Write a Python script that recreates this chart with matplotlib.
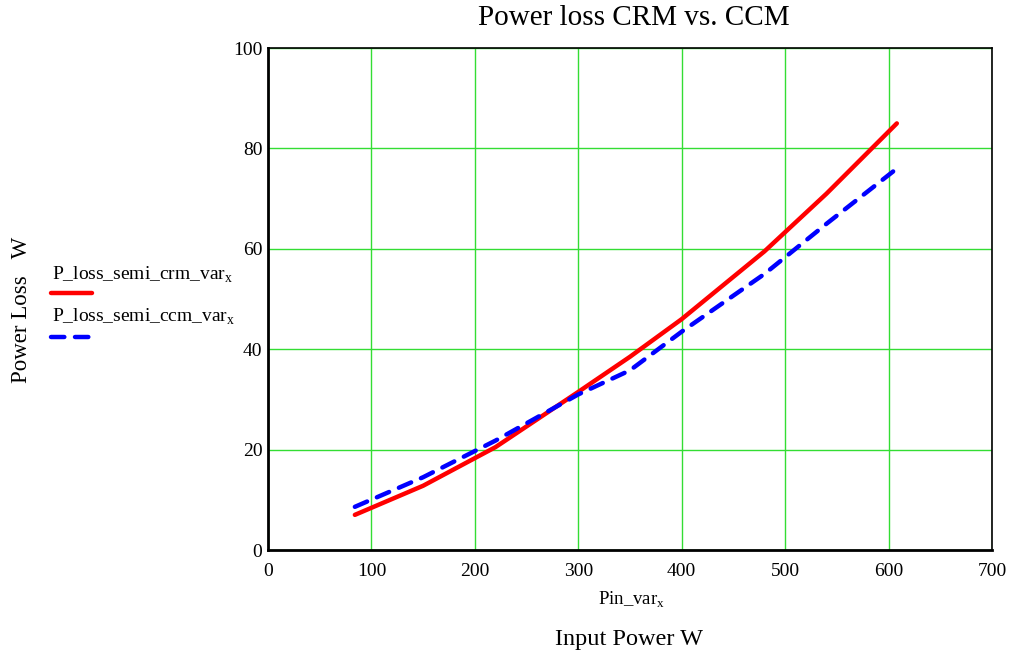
import matplotlib.pyplot as plt
from matplotlib.lines import Line2D

plt.rcParams['font.family'] = ['Liberation Serif', 'DejaVu Serif']
plt.rcParams['mathtext.fontset'] = 'custom'
plt.rcParams['mathtext.rm'] = 'Liberation Serif'

# data
pin_var = [84, 150, 220, 300, 350, 400, 480, 540, 608]
loss_crm = [7.0, 12.8, 20.5, 31.5, 38.5, 46.0, 59.5, 71.0, 85.0]
loss_ccm = [8.6, 14.5, 21.8, 31.0, 35.8, 43.5, 55.0, 65.0, 76.0]
x_ticks = [0, 100, 200, 300, 400, 500, 600, 700]
y_ticks = [0, 20, 40, 60, 80, 100]

fig = plt.figure(figsize=(10.17, 6.59), dpi=100)
ax = fig.add_axes([0.2635, 0.1654, 0.7119, 0.7616])

# grid
ax.grid(True, color="#33dd33", linewidth=1.0, zorder=1)
ax.set_axisbelow(True)

# curves
ax.plot(pin_var, loss_crm, color="#ff0000", linewidth=3.2, solid_capstyle="round", zorder=3)
ax.plot(pin_var, loss_ccm, color="#0000ff", linewidth=3.2, dashes=(3.0, 2.4),
        dash_capstyle="round", zorder=3)

ax.set_xlim(0, 700)
ax.set_ylim(0, 100)
ax.set_xticks(x_ticks)
ax.set_yticks(y_ticks)
ax.tick_params(axis="both", labelsize=14, length=0)
ax.tick_params(axis="x", pad=9)
ax.tick_params(axis="y", pad=4)

# frame
for side in ["left", "bottom"]:
    ax.spines[side].set_linewidth(2.0)
for side in ["top", "right"]:
    ax.spines[side].set_linewidth(1.2)

# texts
fig.text(0.623, 0.972, "Power loss CRM vs. CCM", ha="center", va="center", fontsize=21)
fig.text(0.621, 0.090, "Pin_var$_{\\mathrm{x}}$", ha="center", va="center", fontsize=13.5)
fig.text(0.618, 0.030, "Input Power W", ha="center", va="center", fontsize=17.5)
fig.text(0.021, 0.53, "Power Loss   W", ha="center", va="center", fontsize=16.5, rotation=90)

# legend at left
fig.text(0.051, 0.583, "P_loss_semi_crm_var$_{\\mathrm{x}}$", ha="left", va="center", fontsize=14)
fig.add_artist(Line2D([0.050, 0.090], [0.555, 0.555], color="#ff0000", linewidth=3.2,
                      solid_capstyle="round", transform=fig.transFigure))
fig.text(0.051, 0.519, "P_loss_semi_ccm_var$_{\\mathrm{x}}$", ha="left", va="center", fontsize=14)
fig.add_artist(Line2D([0.050, 0.090], [0.488, 0.488], color="#0000ff", linewidth=3.2,
                      dashes=(3.0, 2.4), dash_capstyle="round", transform=fig.transFigure))

fig.savefig("out.png", dpi=100)
